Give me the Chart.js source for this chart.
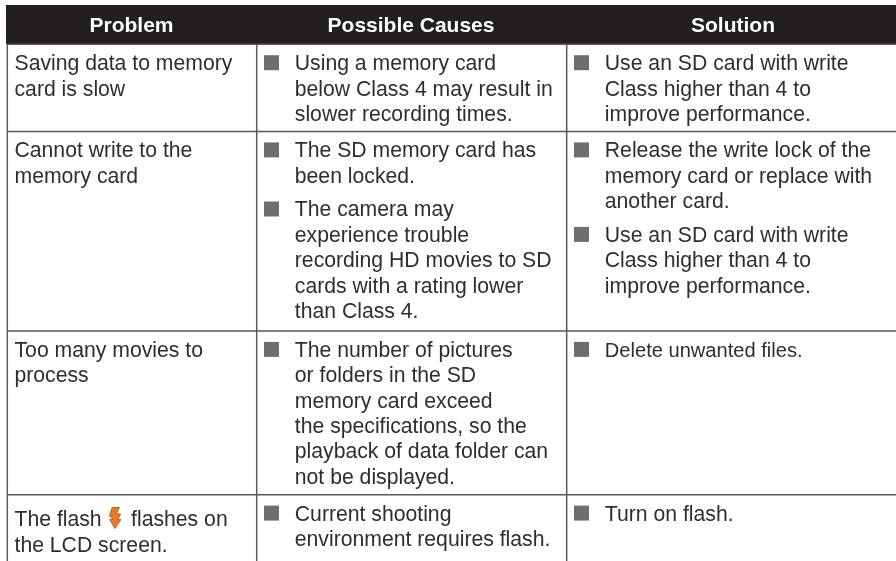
<!DOCTYPE html>
<html>
<head>
<meta charset="utf-8">
<title>Troubleshooting table</title>
<script src="https://cdn.jsdelivr.net/npm/chart.js@4/dist/chart.umd.js"></script>
<style>
  html, body { margin: 0; padding: 0; background: #fff; }
  canvas { display: block; }
</style>
</head>
<body>
<canvas id="table" width="896" height="561"></canvas>
<script>
const headers = ['Problem', 'Possible Causes', 'Solution'];

const problems = [
  ['Saving data to memory', 'card is slow'],
  ['Cannot write to the', 'memory card'],
  ['Too many movies to', 'process'],
  ['The flash     flashes on', 'the LCD screen.'],
];

const causes = [
  [['Using a memory card', 'below Class 4 may result in', 'slower recording times.']],
  [['The SD memory card has', 'been locked.'],
   ['The camera may', 'experience trouble', 'recording HD movies to SD', 'cards with a rating lower', 'than Class 4.']],
  [['The number of pictures', 'or folders in the SD', 'memory card exceed', 'the specifications, so the', 'playback of data folder can', 'not be displayed.']],
  [['Current shooting', 'environment requires flash.']],
];

const solutions = [
  [['Use an SD card with write', 'Class higher than 4 to', 'improve performance.']],
  [['Release the write lock of the', 'memory card or replace with', 'another card.'],
   ['Use an SD card with write', 'Class higher than 4 to', 'improve performance.']],
  [['Delete unwanted files.']],
  [['Turn on flash.']],
];

// layout, all in page pixels
const colEdges = [7.3, 256.7, 566.7, 896];
const rowEdges = [44.3, 131.5, 331, 494.7, 561];
const headerCentres = [131.5, 411, 733];
const headerTop = 5;
const lineHeight = 25.4;
const paragraphGap = 8.3;
const firstBaseline = 25.8;   // from the row rule down to the first baseline
const lastRowProblemShift = 5.8;
const bulletOffset = 14.8;
const textOffset = 38.1;
const headerSize = 21;
const bodySize = 21.2;
const smallerLine = 'Delete unwanted files.';   // set a little tighter in the original
const font = '"Liberation Sans", Arial, sans-serif';

const textItems = [];
const bulletPoints = [];

function addParagraphs(paragraphs, col, row) {
  let y = rowEdges[row] + firstBaseline;
  paragraphs.forEach(lines => {
    bulletPoints.push({ x: colEdges[col] + bulletOffset, y: y - 7.4 });
    lines.forEach(line => {
      textItems.push({ text: line, x: colEdges[col] + textOffset, y });
      y += lineHeight;
    });
    y += paragraphGap;
  });
}

problems.forEach((lines, row) => {
  const shift = row === 3 ? lastRowProblemShift : 0;
  lines.forEach((line, i) => {
    textItems.push({ text: line, x: 14.5, y: rowEdges[row] + firstBaseline + shift + i * lineHeight });
  });
});
causes.forEach((paragraphs, row) => addParagraphs(paragraphs, 1, row));
solutions.forEach((paragraphs, row) => addParagraphs(paragraphs, 2, row));

const rule = (x1, y1, x2, y2) => [{ x: x1, y: y1 }, { x: x2, y: y2 }];
const ruleLines = [
  ...rowEdges.slice(0, 4).map(y => rule(colEdges[0], y, 896, y)),
  ...colEdges.slice(0, 3).map(x => rule(x, rowEdges[0], x, 561)),
];

const tablePlugin = {
  id: 'tableText',
  beforeDatasetsDraw(chart) {
    const { ctx, scales: { x, y } } = chart;
    ctx.save();
    ctx.fillStyle = '#231f20';
    ctx.fillRect(x.getPixelForValue(6), y.getPixelForValue(headerTop),
      x.getPixelForValue(896) - x.getPixelForValue(6),
      y.getPixelForValue(rowEdges[0]) - y.getPixelForValue(headerTop));
    ctx.restore();
  },
  afterDatasetsDraw(chart) {
    const { ctx, scales: { x, y } } = chart;
    ctx.save();
    ctx.textBaseline = 'alphabetic';

    ctx.font = 'bold ' + headerSize + 'px ' + font;
    ctx.fillStyle = '#ffffff';
    ctx.textAlign = 'center';
    headers.forEach((h, i) => {
      ctx.fillText(h, x.getPixelForValue(headerCentres[i]), y.getPixelForValue(32));
    });

    ctx.fillStyle = '#2e2e2e';
    ctx.textAlign = 'left';
    textItems.forEach(t => {
      ctx.font = (t.text === smallerLine ? 20.1 : bodySize) + 'px ' + font;
      ctx.fillText(t.text, x.getPixelForValue(t.x), y.getPixelForValue(t.y));
    });

    // flash icon in the last problem cell
    const fx = x.getPixelForValue(115), fy = y.getPixelForValue(518);
    ctx.fillStyle = '#ea7a26';
    ctx.strokeStyle = '#a4561f';
    ctx.lineWidth = 0.8;
    ctx.lineJoin = 'miter';
    ctx.beginPath();
    ctx.moveTo(fx - 3, fy - 10.5);
    ctx.lineTo(fx + 4.5, fy - 10.5);
    ctx.lineTo(fx + 1.5, fy - 4.5);
    ctx.lineTo(fx + 5.5, fy - 4);
    ctx.lineTo(fx + 3, fy + 1.5);
    ctx.lineTo(fx + 6, fy + 1.5);
    ctx.lineTo(fx, fy + 10.5);
    ctx.lineTo(fx - 5.5, fy + 1.5);
    ctx.lineTo(fx - 2, fy + 1.5);
    ctx.lineTo(fx - 5.5, fy - 2);
    ctx.closePath();
    ctx.fill();
    ctx.stroke();
    ctx.restore();
  },
};

new Chart(document.getElementById('table'), {
  type: 'scatter',
  data: {
    datasets: [
      ...ruleLines.map(points => ({
        data: points,
        showLine: true,
        borderColor: '#58595b',
        borderWidth: 1.5,
        pointRadius: 0,
      })),
      {
        data: bulletPoints,
        pointStyle: 'rect',
        pointRadius: 10.6,
        pointBackgroundColor: '#6d6e71',
        pointBorderWidth: 0,
        showLine: false,
      },
    ],
  },
  options: {
    responsive: false,
    animation: false,
    layout: { padding: 0, autoPadding: false },
    plugins: { legend: { display: false }, tooltip: { enabled: false } },
    scales: {
      x: { type: 'linear', display: false, min: 0, max: 896 },
      y: { type: 'linear', display: false, min: 0, max: 561, reverse: true },
    },
  },
  plugins: [tablePlugin],
});
</script>
</body>
</html>
